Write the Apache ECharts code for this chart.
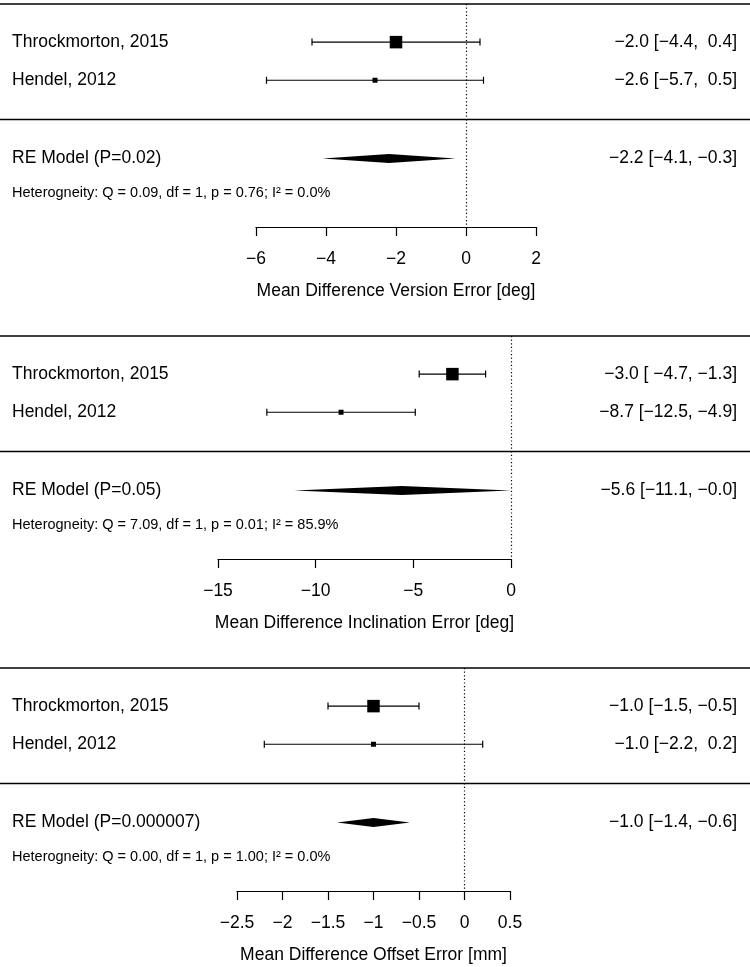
<!DOCTYPE html>
<html><head><meta charset="utf-8">
<script src="https://cdn.jsdelivr.net/npm/echarts@6.0.0/dist/echarts.min.js"></script>
<style>html,body{margin:0;padding:0;background:#fff}#c{width:750px;height:967px}</style>
</head><body><div id="c"></div>
<script>
// ---------- data ----------
const studyNames = ['Throckmorton, 2015', 'Hendel, 2012'];

const versionEst   = [-2.0, -2.6];
const versionLower = [-4.4, -5.7];
const versionUpper = [0.4, 0.5];
const versionModel = [-2.2, -4.1, -0.3];      // estimate, lower, upper
const versionP     = '0.02';
const versionHet   = [0.09, 1, 0.76, 0.0];     // Q, df, p, I2
const versionTicks = [-6, -4, -2, 0, 2];
const versionTitle = 'Mean Difference Version Error [deg]';

const inclinationEst   = [-3.0, -8.7];
const inclinationLower = [-4.7, -12.5];
const inclinationUpper = [-1.3, -4.9];
const inclinationModel = [-5.6, -11.1, -0.02];
const inclinationP     = '0.05';
const inclinationHet   = [7.09, 1, 0.01, 85.9];
const inclinationTicks = [-15, -10, -5, 0];
const inclinationTitle = 'Mean Difference Inclination Error [deg]';

const offsetEst   = [-1.0, -1.0];
const offsetLower = [-1.5, -2.2];
const offsetUpper = [-0.5, 0.2];
const offsetModel = [-1.0, -1.4, -0.6];
const offsetP     = '0.000007';
const offsetHet   = [0.00, 1, 1.00, 0.0];
const offsetTicks = [-2.5, -2, -1.5, -1, -0.5, 0, 0.5];
const offsetTitle = 'Mean Difference Offset Error [mm]';

// ---------- layout ----------
const FONT = "'Liberation Sans', Arial, Helvetica, sans-serif";
const panels = [
  {est: versionEst, lo: versionLower, hi: versionUpper, model: versionModel, p: versionP, het: versionHet, ticks: versionTicks, title: versionTitle, left: 256, width: 280, top: 4},
  {est: inclinationEst, lo: inclinationLower, hi: inclinationUpper, model: inclinationModel, p: inclinationP, het: inclinationHet, ticks: inclinationTicks, title: inclinationTitle, left: 218, width: 293, top: 336},
  {est: offsetEst, lo: offsetLower, hi: offsetUpper, model: offsetModel, p: offsetP, het: offsetHet, ticks: offsetTicks, title: offsetTitle, left: 237, width: 273, top: 668}
];
const GRID_H = 223;
const Y_MAX = 5.85;
const ROW_RULE = 3.03, ROW_RE = 4.05, ROW_HET = 4.95;
const TEXT_SIZE = 17.5, HET_SIZE = 14.5, AXIS_SIZE = 17.5;
const RIGHT_X = 737, LEFT_X = 12;

const minus = s => s.replace(/-/g, '\u2212');
const padCol = arr => { const w = Math.max(...arr.map(s => s.length)); return arr.map(s => ' '.repeat(w - s.length) + s); };

function ciLabels(p) {
  const e = padCol(p.est.concat([p.model[0]]).map(v => v.toFixed(1)));
  const l = padCol(p.lo.concat([p.model[1]]).map(v => v.toFixed(1)));
  const h = padCol(p.hi.concat([p.model[2]]).map(v => v.toFixed(1)));
  return e.map((s, i) => minus(s + ' [' + l[i] + ', ' + h[i] + ']'));
}

const grids = [], xAxes = [], yAxes = [], series = [];
panels.forEach((p, k) => {
  grids.push({left: p.left, width: p.width, top: p.top, height: GRID_H});
  const t = p.ticks;
  xAxes.push({
    gridIndex: k, type: 'value', min: t[0], max: t[t.length - 1], interval: t[1] - t[0],
    position: 'bottom',
    axisLine: {show: true, onZero: false, lineStyle: {color: '#000', width: 1.2}},
    axisTick: {show: true, length: 9, lineStyle: {color: '#000', width: 1.2}},
    splitLine: {show: false},
    axisLabel: {color: '#000', fontSize: AXIS_SIZE, fontFamily: FONT, margin: 23,
      formatter: v => minus(String(+v.toFixed(2)))},
    name: p.title, nameLocation: 'middle', nameGap: 55,
    nameTextStyle: {color: '#000', fontSize: AXIS_SIZE, fontFamily: FONT}
  });
  yAxes.push({gridIndex: k, type: 'value', min: 0, max: Y_MAX, inverse: true, show: false});

  const labels = ciLabels(p);
  // weights from CI widths -> square sizes
  const w = p.lo.map((lo, i) => { const se = (p.hi[i] - lo) / 3.92; return 1 / (se * se); });
  const wMin = Math.min(...w), wMax = Math.max(...w);
  const sizes = w.map(x => wMax === wMin ? 8 : 5 + 7.5 * (x - wMin) / (wMax - wMin));

  // studies
  series.push({
    type: 'custom', xAxisIndex: k, yAxisIndex: k, silent: true,
    data: p.est.map((e, i) => [e, p.lo[i], p.hi[i], i + 1, i]),
    renderItem: (params, api) => {
      const i = api.value(4);
      const row = api.value(3);
      const c = api.coord([api.value(0), row]);
      const a = api.coord([api.value(1), row]);
      const b = api.coord([api.value(2), row]);
      const s = sizes[i];
      const cap = 3.5;
      return {type: 'group', children: [
        {type: 'line', shape: {x1: a[0], y1: a[1], x2: b[0], y2: b[1]}, style: {stroke: '#000', lineWidth: 1.2}},
        {type: 'line', shape: {x1: a[0], y1: a[1] - cap, x2: a[0], y2: a[1] + cap}, style: {stroke: '#000', lineWidth: 1.2}},
        {type: 'line', shape: {x1: b[0], y1: b[1] - cap, x2: b[0], y2: b[1] + cap}, style: {stroke: '#000', lineWidth: 1.2}},
        {type: 'rect', shape: {x: c[0] - s / 2, y: c[1] - s / 2, width: s, height: s}, style: {fill: '#000'}},
        {type: 'text', style: {text: studyNames[i], x: LEFT_X, y: c[1], align: 'left', verticalAlign: 'middle', fill: '#000', font: TEXT_SIZE + 'px ' + FONT}},
        {type: 'text', style: {text: labels[i], x: RIGHT_X, y: c[1], align: 'right', verticalAlign: 'middle', fill: '#000', font: TEXT_SIZE + 'px ' + FONT}}
      ]};
    },
    markLine: {
      silent: true, symbol: ['none', 'none'], label: {show: false},
      lineStyle: {color: '#000', type: [1.2, 2.4], width: 1.2},
      data: [{xAxis: 0}]
    },
    z: 3
  });

  // RE model diamond + rules + heterogeneity
  const m = p.model;
  const hetText = 'Heterogneity: Q = ' + p.het[0].toFixed(2) + ', df = ' + p.het[1] + ', p = ' + p.het[2].toFixed(2) + '; I\u00B2 = ' + p.het[3].toFixed(1) + '%';
  series.push({
    type: 'custom', xAxisIndex: k, yAxisIndex: k, silent: true,
    data: [[m[0], m[1], m[2], ROW_RE]],
    renderItem: (params, api) => {
      const row = api.value(3);
      const c = api.coord([api.value(0), row]);
      const a = api.coord([api.value(1), row]);
      const b = api.coord([api.value(2), row]);
      const hh = 4.5;
      const yTop = api.coord([0, 0])[1];
      const yRule = api.coord([0, ROW_RULE])[1];
      const yHet = api.coord([0, ROW_HET])[1];
      const W = api.getWidth();
      return {type: 'group', children: [
        {type: 'line', shape: {x1: 0, y1: yTop, x2: W, y2: yTop}, style: {stroke: '#000', lineWidth: 1.4}},
        {type: 'line', shape: {x1: 0, y1: yRule, x2: W, y2: yRule}, style: {stroke: '#000', lineWidth: 1.4}},
        {type: 'polygon', shape: {points: [[a[0], a[1]], [c[0], c[1] - hh], [b[0], b[1]], [c[0], c[1] + hh]]}, style: {fill: '#000'}},
        {type: 'text', style: {text: 'RE Model (P=' + p.p + ')', x: LEFT_X, y: c[1], align: 'left', verticalAlign: 'middle', fill: '#000', font: TEXT_SIZE + 'px ' + FONT}},
        {type: 'text', style: {text: labels[labels.length - 1], x: RIGHT_X, y: c[1], align: 'right', verticalAlign: 'middle', fill: '#000', font: TEXT_SIZE + 'px ' + FONT}},
        {type: 'text', style: {text: hetText, x: LEFT_X, y: yHet, align: 'left', verticalAlign: 'middle', fill: '#000', font: HET_SIZE + 'px ' + FONT}}
      ]};
    },
    z: 3
  });
});

const chart = echarts.init(document.getElementById('c'), null, {renderer: 'canvas'});
chart.setOption({
  animation: false,
  backgroundColor: '#fff',
  grid: grids, xAxis: xAxes, yAxis: yAxes, series: series
});
</script>
</body></html>
